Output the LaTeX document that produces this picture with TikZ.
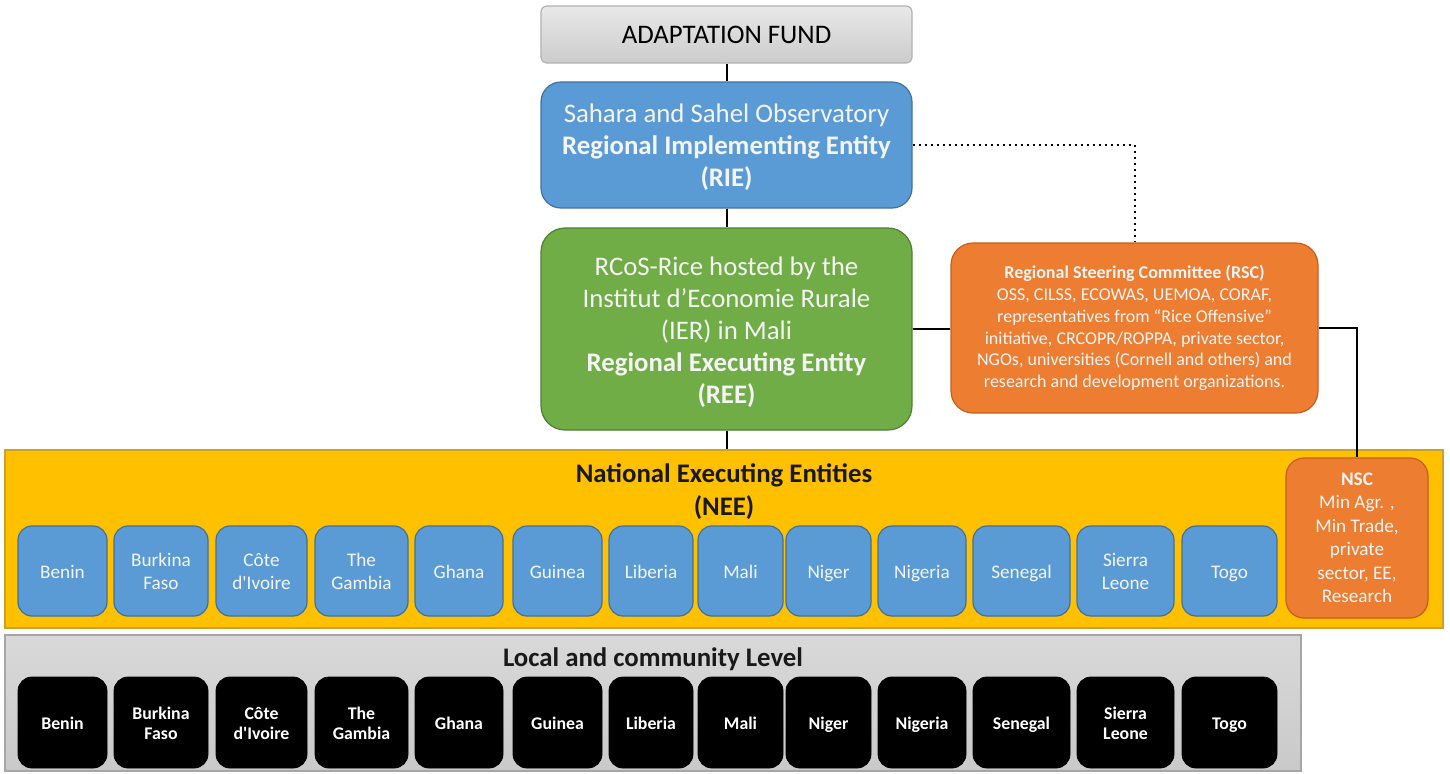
\documentclass[tikz,border=0pt]{standalone}
\usepackage{fontspec}
\setmainfont{Carlito}
\usetikzlibrary{calc}

\definecolor{afblue}{HTML}{5B9BD5}
\definecolor{afblueedge}{HTML}{41719C}
\definecolor{afgreen}{HTML}{70AD47}
\definecolor{afgreenedge}{HTML}{507E32}
\definecolor{aforange}{HTML}{ED7D31}
\definecolor{aforangeedge}{HTML}{C65F1E}
\definecolor{afyellow}{HTML}{FFC000}
\definecolor{afyellowedge}{HTML}{C9A227}
\definecolor{txtwhite}{HTML}{F4F4F4}

% invisible rules that fix the height of the first and the depth of the last line
\newcommand\topprop[1]{\rule{0pt}{#1}}
\newcommand\botprop[1]{\rule[-#1]{0pt}{#1}}

\tikzset{
  topbox/.style={draw=gray!60, line width=0.6pt, rounded corners=3pt,
    top color=gray!18, bottom color=gray!40, text=black,
    minimum width=185.5pt, minimum height=28.5pt, inner sep=0pt,
    font=\fontsize{13.4}{16}\selectfont},
  entity/.style={line width=0.6pt, text=txtwhite, align=center, inner sep=0pt,
    font=\fontsize{13.4}{16}\selectfont},
  band/.style={line width=0.7pt, inner sep=0pt},
  nation/.style={draw=afblueedge, fill=afblue, line width=0.6pt, rounded corners=7pt,
    text=txtwhite, align=center, inner sep=0pt, minimum height=45pt,
    font=\fontsize{9.6}{11.5}\selectfont},
  local/.style={fill=black, draw=black, rounded corners=7pt,
    text=white, align=center, inner sep=0pt, minimum height=45.5pt,
    font=\fontsize{8.9}{10}\selectfont\bfseries},
  link/.style={draw=black, line width=1pt},
  dotlink/.style={draw=black, line width=1pt, dotted}
}

\begin{document}
\begin{tikzpicture}[x=0.5pt, y=-0.5pt]
\useasboundingbox (0,0) rectangle (1450,773);

% Background bands
\node[band, draw=afyellowedge, fill=afyellow, minimum width=719pt, minimum height=89pt]
  (NEE) at (724,539) {};
\node[band, draw=gray!70, top color=gray!30, bottom color=gray!42,
  minimum width=648pt, minimum height=68pt] (LCL) at (653,703) {};

\node[font=\fontsize{13.4}{16.5}\selectfont\bfseries, align=center, text=black!90]
  (NEEtitle) at (724,492) {National Executing Entities\\(NEE)};
\node[font=\fontsize{13.4}{15}\selectfont\bfseries, text=black!90]
  (LCLtitle) at (653,659) {Local and community Level};

% Upper hierarchy
\node[topbox] (AF) at (726.5,34.5) {ADAPTATION FUND};
\node[entity, draw=afblueedge, fill=afblue, rounded corners=10pt,
  minimum width=185.5pt, minimum height=63pt] (RIE) at (726.5,145)
  {\topprop{12pt}Sahara and Sahel Observatory\\\textbf{Regional Implementing Entity}\\\textbf{(RIE)}};
\node[entity, draw=afgreenedge, fill=afgreen, rounded corners=12pt,
  minimum width=185.5pt, minimum height=101pt] (REE) at (726.5,329)
  {\topprop{12.5pt}RCoS-Rice hosted by the\\Institut d’Economie Rurale\\(IER) in Mali\\
   \textbf{Regional Executing Entity}\\\textbf{(REE)}};
\node[entity, draw=aforangeedge, fill=aforange, rounded corners=11pt,
  minimum width=183.5pt, minimum height=85pt,
  font=\fontsize{9}{10.9}\selectfont] (RSC) at (1134.5,328)
  {\textbf{Regional Steering Committee (RSC)}\\
   OSS, CILSS, ECOWAS, UEMOA, CORAF,\\
   representatives from “Rice Offensive”\\
   initiative, CRCOPR/ROPPA, private sector,\\
   NGOs, universities (Cornell and others) and\\
   research and development organizations.};
\node[entity, draw=aforangeedge, fill=aforange, rounded corners=9pt,
  minimum width=71pt, minimum height=80pt,
  font=\fontsize{9.6}{11.75}\selectfont] (NSC) at (1357,538)
  {\textbf{NSC}\\Min Agr. ,\\Min Trade,\\private\\sector, EE,\\Research};

% Country rows: national executing entities and local level
\foreach \l/\r/\name/\id in {
  18/107/Benin/bj, 114/208/Burkina\\Faso/bf, 216/307/Côte\\d\textquotesingle Ivoire/ci,
  315/408/The\\Gambia/gm, 415/503/Ghana/gh, 513/602/Guinea/gn,
  609/693/Liberia/lr, 698/783/Mali/ml, 786/871/Niger/ne,
  878/966/Nigeria/ng, 973/1070/Senegal/sn, 1077/1174/Sierra\\Leone/sl,
  1182/1277/Togo/tg}{
  \pgfmathsetmacro{\cx}{(\l+\r)/2}
  \pgfmathsetmacro{\boxw}{(\r-\l)/2}
  \node[nation, minimum width=\boxw pt] (nee-\id) at (\cx,571)
    {\topprop{9.5pt}\name\botprop{2.4pt}};
  \node[local, minimum width=\boxw pt] (lcl-\id) at (\cx,722.5)
    {\topprop{9pt}\name\botprop{2.5pt}};
}

% Connectors
\draw[link] (AF.south) -- (RIE.north);
\draw[link] (RIE.south) -- (REE.north);
\draw[link] (REE.south) -- (REE.south |- NEE.north);
\draw[link] (REE.east) -- (REE.east -| RSC.west);
\draw[dotlink] (RIE.east) -| (RSC.north);
\draw[link] (RSC.east) -| (NSC.north);
\end{tikzpicture}
\end{document}
